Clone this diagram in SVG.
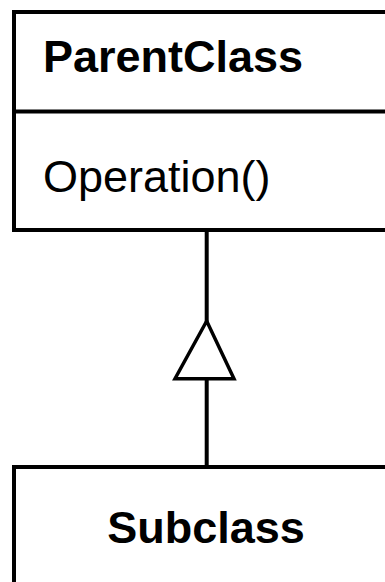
<svg xmlns="http://www.w3.org/2000/svg" width="385" height="582" viewBox="0 0 385 582">
<style>
.box{fill:#fff;stroke:#000;stroke-width:4}
.line{stroke:#000;stroke-width:4;fill:none}
.tri{fill:#fff;stroke:#000;stroke-width:3.5;stroke-linejoin:miter}
.t{font-family:"Liberation Sans",Arial,sans-serif;font-size:45px;fill:#000}
.b{font-weight:bold}
</style>
<rect width="385" height="582" fill="#fff"/>
<g id="connectors">
<line class="line" x1="206.7" y1="230" x2="206.7" y2="322"/>
<line class="line" x1="206.7" y1="378" x2="206.7" y2="467"/>
<polygon class="tri" points="206.7,321 175,378.7 234,378.7"/>
</g>
<g id="ParentClass">
<rect class="box" x="14" y="12" width="400" height="218"/>
<line class="line" x1="14" y1="111.5" x2="400" y2="111.5"/>
<text class="t b" x="43" y="72">ParentClass</text>
<text class="t" x="43" y="192">Operation()</text>
</g>
<g id="Subclass">
<rect class="box" x="14" y="467" width="400" height="200"/>
<text class="t b" x="206" y="543" text-anchor="middle">Subclass</text>
</g>
</svg>
